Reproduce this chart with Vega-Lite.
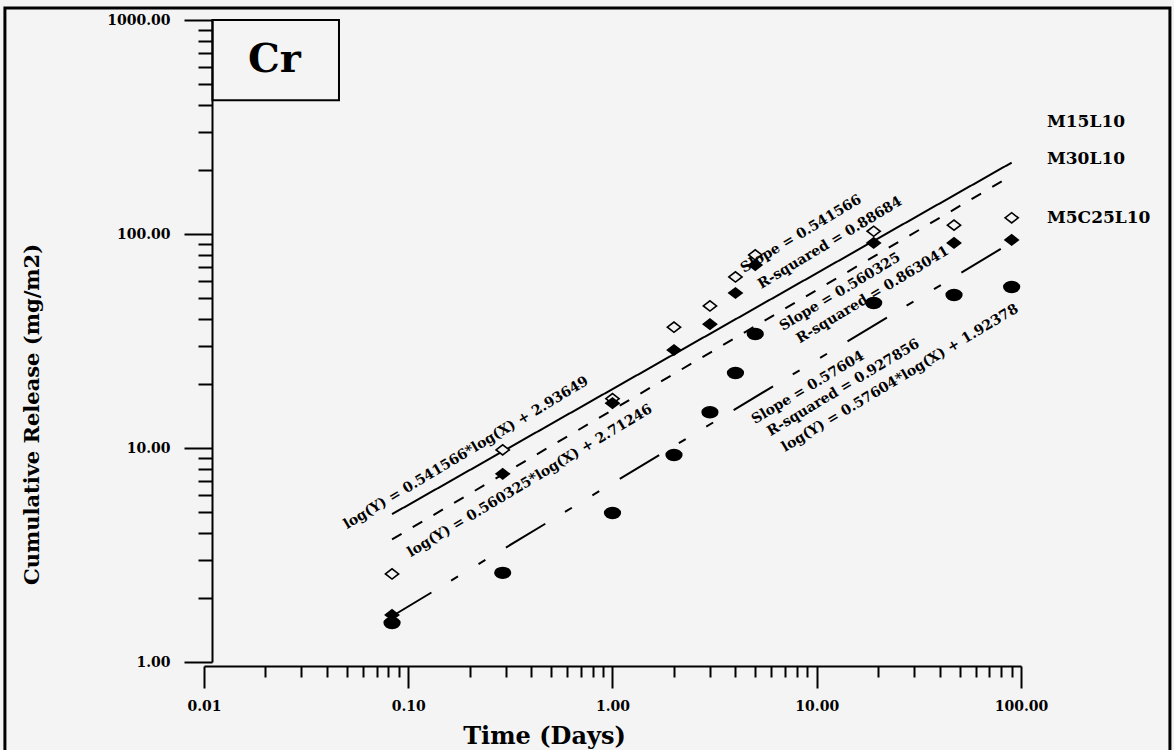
{
  "$schema": "https://vega.github.io/schema/vega-lite/v6.json",
  "autosize": "none",
  "width": 817,
  "height": 642,
  "padding": {"left": 204, "top": 20, "right": 153, "bottom": 88},
  "background": "#f4f4f4",
  "config": {"view": {"stroke": null}},
  "datasets": {
    "points": [
      {"series": "M15L10", "x": 0.0833, "y": 2.58},
      {"series": "M15L10", "x": 0.29, "y": 9.8},
      {"series": "M15L10", "x": 1, "y": 17.0},
      {"series": "M15L10", "x": 2, "y": 36.7},
      {"series": "M15L10", "x": 3, "y": 46.1},
      {"series": "M15L10", "x": 4, "y": 63},
      {"series": "M15L10", "x": 5, "y": 79.8},
      {"series": "M15L10", "x": 19, "y": 103},
      {"series": "M15L10", "x": 47, "y": 110},
      {"series": "M15L10", "x": 90, "y": 119},
      {"series": "M30L10", "x": 0.0833, "y": 1.66},
      {"series": "M30L10", "x": 0.29, "y": 7.57},
      {"series": "M30L10", "x": 1, "y": 16.2},
      {"series": "M30L10", "x": 2, "y": 28.7},
      {"series": "M30L10", "x": 3, "y": 37.9},
      {"series": "M30L10", "x": 4, "y": 53},
      {"series": "M30L10", "x": 5, "y": 71.6},
      {"series": "M30L10", "x": 19, "y": 90.8},
      {"series": "M30L10", "x": 47, "y": 90.8},
      {"series": "M30L10", "x": 90, "y": 93.8},
      {"series": "M5C25L10", "x": 0.0833, "y": 1.52},
      {"series": "M5C25L10", "x": 0.29, "y": 2.61},
      {"series": "M5C25L10", "x": 1, "y": 4.97},
      {"series": "M5C25L10", "x": 2, "y": 9.27},
      {"series": "M5C25L10", "x": 3, "y": 14.7},
      {"series": "M5C25L10", "x": 4, "y": 22.4},
      {"series": "M5C25L10", "x": 5, "y": 34.1},
      {"series": "M5C25L10", "x": 19, "y": 47.6},
      {"series": "M5C25L10", "x": 47, "y": 51.9},
      {"series": "M5C25L10", "x": 90, "y": 56.5}
    ],
    "fits": [
      {"series": "M15L10", "x": 0.0833, "y": 4.907},
      {"series": "M15L10", "x": 90, "y": 215.6},
      {"series": "M30L10", "x": 0.0833, "y": 3.742},
      {"series": "M30L10", "x": 90, "y": 187.5},
      {"series": "M5C25L10", "x": 0.0833, "y": 1.636},
      {"series": "M5C25L10", "x": 90, "y": 91.45}
    ],
    "notes": [
      {"label": "log(Y) = 0.541566*log(X) + 2.93649", "x": 0.192, "y": 9.48},
      {"label": "log(Y) = 0.560325*log(X) + 2.71246", "x": 0.394, "y": 7.02},
      {"label": "Slope = 0.541566", "x": 8.38, "y": 100},
      {"label": "R-squared = 0.88684", "x": 11.6, "y": 90.8},
      {"label": "Slope = 0.560325", "x": 13.0, "y": 53.6},
      {"label": "R-squared = 0.863041", "x": 18.8, "y": 51.9},
      {"label": "Slope = 0.57604", "x": 9.06, "y": 19.1},
      {"label": "R-squared = 0.927856", "x": 13.5, "y": 19.1},
      {"label": "log(Y) = 0.57604*log(X) + 1.92378", "x": 25.6, "y": 21.2}
    ],
    "serieslabels": [
      {"label": "M15L10", "x": 134, "y": 333},
      {"label": "M30L10", "x": 134, "y": 224},
      {"label": "M5C25L10", "x": 134, "y": 119}
    ],
    "frame": [
      {"x": 0.00106, "x2": 536, "y": 1138, "y2": 0.3}
    ],
    "box": [
      {"x": 0.011, "x2": 0.0458, "y": 1000, "y2": 422, "label": "Cr", "tx": 0.0221, "ty": 571}
    ]
  },
  "encoding": {
    "x": {
      "field": "x", "type": "quantitative",
      "scale": {"type": "log", "domain": [0.01, 100], "nice": false},
      "axis": {
        "orient": "bottom",
        "offset": 4,
        "values": [0.01,0.02,0.03,0.04,0.05,0.06,0.07,0.08,0.09,0.1,0.2,0.3,0.4,0.5,0.6,0.7,0.8,0.9,1,2,3,4,5,6,7,8,9,10,20,30,40,50,60,70,80,90,100],
        "labelExpr": "abs(log(datum.value)/LN10 - round(log(datum.value)/LN10)) < 0.001 ? format(datum.value, '.2f') : ''",
        "labelOverlap": false,
        "labelFlush": false,
        "labelBound": false,
        "grid": false,
        "domainColor": "black",
        "domainWidth": 2,
        "tickColor": "black",
        "tickWidth": 2,
        "tickSize": {"condition": {"test": "abs(log(datum.value)/LN10 - round(log(datum.value)/LN10)) < 0.001", "value": 22}, "value": 11},
        "labelFont": "DejaVu Serif",
        "labelFontWeight": "bold",
        "labelFontSize": 14,
        "labelColor": "black",
        "labelPadding": 11,
        "title": "Time (Days)",
        "titleFont": "DejaVu Serif",
        "titleFontWeight": "bold",
        "titleFontSize": 24,
        "titleColor": "black",
        "titleX": 340,
        "titleY": 77,
        "titleBaseline": "alphabetic"
      }
    },
    "y": {
      "field": "y", "type": "quantitative",
      "scale": {"type": "log", "domain": [1, 1000], "nice": false},
      "axis": {
        "orient": "left",
        "offset": -8,
        "values": [1,2,3,4,5,6,7,8,9,10,20,30,40,50,60,70,80,90,100,200,300,400,500,600,700,800,900,1000],
        "labelExpr": "abs(log(datum.value)/LN10 - round(log(datum.value)/LN10)) < 0.001 ? format(datum.value, '.2f') : ''",
        "labelOverlap": false,
        "labelFlush": false,
        "labelBound": false,
        "grid": false,
        "domainColor": "black",
        "domainWidth": 2,
        "tickColor": "black",
        "tickWidth": 2,
        "tickSize": {"condition": {"test": "abs(log(datum.value)/LN10 - round(log(datum.value)/LN10)) < 0.001", "value": 28}, "value": 14},
        "labelFont": "DejaVu Serif",
        "labelFontWeight": "bold",
        "labelFontSize": 14,
        "labelColor": "black",
        "labelPadding": 14,
        "title": "Cumulative Release (mg/m2)",
        "titleFont": "DejaVu Serif",
        "titleFontWeight": "bold",
        "titleFontSize": 21,
        "titleColor": "black",
        "titleX": -180,
        "titleY": 394,
        "titleBaseline": "middle",
        "titleAngle": 270
      }
    }
  },
  "layer": [
    {
      "data": {"name": "frame"},
      "mark": {"type": "rect", "fill": null, "stroke": "black", "strokeWidth": 3, "clip": false},
      "encoding": {"x2": {"field": "x2"}, "y2": {"field": "y2"}}
    },
    {
      "data": {"name": "box"},
      "mark": {"type": "rect", "fill": null, "stroke": "black", "strokeWidth": 2},
      "encoding": {"x2": {"field": "x2"}, "y2": {"field": "y2"}}
    },
    {
      "data": {"name": "box"},
      "mark": {"type": "text", "font": "DejaVu Serif", "fontWeight": "bold", "fontSize": 40, "align": "center", "baseline": "alphabetic", "color": "black"},
      "encoding": {
        "x": {"field": "tx", "type": "quantitative"},
        "y": {"field": "ty", "type": "quantitative"},
        "text": {"field": "label"}
      }
    },
    {
      "data": {"name": "fits"},
      "mark": {"type": "line", "color": "black", "strokeWidth": 2},
      "encoding": {
        "detail": {"field": "series"},
        "strokeDash": {"field": "series", "type": "nominal", "scale": {"domain": ["M15L10", "M30L10", "M5C25L10"], "range": [[1, 0], [11, 13], [46, 23, 8, 24, 8, 24]]}, "legend": null}
      }
    },
    {
      "data": {"name": "points"},
      "mark": {"type": "point", "size": 144, "strokeWidth": 1.6, "opacity": 1, "stroke": "black"},
      "encoding": {
        "shape": {"field": "series", "type": "nominal", "scale": {"domain": ["M15L10", "M30L10", "M5C25L10"], "range": ["M-1.1,0L0,-0.85L1.1,0L0,0.85Z", "M-1.1,0L0,-0.85L1.1,0L0,0.85Z", "M-1.3,0A1.3,0.9,0,1,1,1.3,0A1.3,0.9,0,1,1,-1.3,0Z"]}, "legend": null},
        "fill": {"field": "series", "type": "nominal", "scale": {"domain": ["M15L10", "M30L10", "M5C25L10"], "range": ["#f4f4f4", "black", "black"]}, "legend": null}
      }
    },
    {
      "data": {"name": "notes"},
      "mark": {"type": "text", "angle": 329, "font": "DejaVu Serif", "fontWeight": "bold", "fontSize": 14, "align": "center", "baseline": "middle", "color": "black"},
      "encoding": {"text": {"field": "label"}}
    },
    {
      "data": {"name": "serieslabels"},
      "mark": {"type": "text", "font": "DejaVu Serif", "fontWeight": "bold", "fontSize": 17, "align": "left", "baseline": "middle", "color": "black", "clip": false},
      "encoding": {"text": {"field": "label"}}
    }
  ]
}
